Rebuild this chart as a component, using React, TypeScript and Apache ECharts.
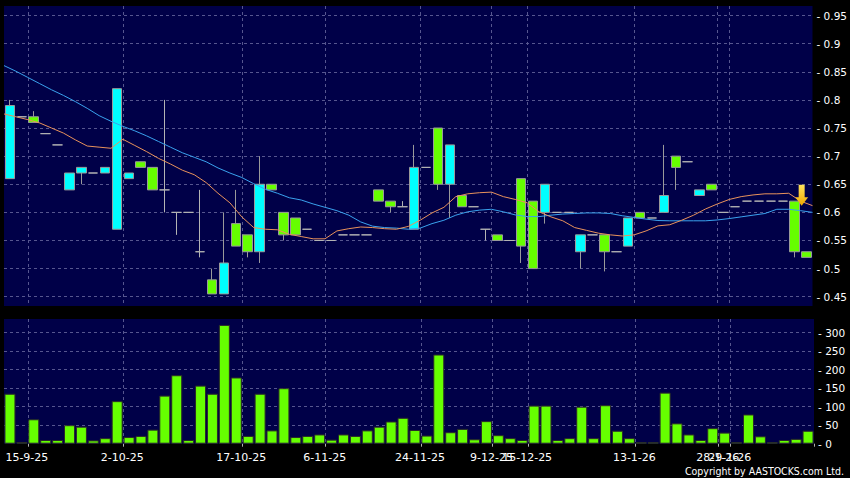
import React, { useEffect, useRef } from 'react';
import * as echarts from 'echarts';

// ---- data ----
const opens = [0.66, 0.77, 0.77, 0.74, 0.72, 0.64, 0.67, 0.67, 0.67, 0.57, 0.66, 0.69, 0.68, 0.64, 0.60, 0.60, 0.53, 0.48, 0.455, 0.58,
  0.56, 0.53, 0.65, 0.60, 0.59, 0.57, 0.55, 0.55, 0.56, 0.56, 0.56, 0.64, 0.62, 0.61, 0.57, 0.68, 0.75, 0.65, 0.63, 0.61,
  0.57, 0.56, 0.55, 0.66, 0.62, 0.60, 0.60, 0.60, 0.53, 0.56, 0.56, 0.53, 0.54, 0.60, 0.59, 0.60, 0.70, 0.69, 0.63, 0.65,
  0.60, 0.61, 0.62, 0.62, 0.62, 0.62, 0.62, 0.53];
const closes = [0.79, 0.77, 0.76, 0.74, 0.72, 0.67, 0.68, 0.67, 0.68, 0.82, 0.67, 0.68, 0.64, 0.64, 0.60, 0.60, 0.53, 0.455, 0.51, 0.54,
  0.53, 0.65, 0.64, 0.56, 0.56, 0.57, 0.55, 0.55, 0.56, 0.56, 0.56, 0.62, 0.61, 0.61, 0.68, 0.68, 0.65, 0.72, 0.61, 0.61,
  0.57, 0.55, 0.55, 0.54, 0.50, 0.65, 0.60, 0.60, 0.56, 0.56, 0.53, 0.53, 0.59, 0.59, 0.59, 0.63, 0.68, 0.69, 0.64, 0.64,
  0.60, 0.61, 0.62, 0.62, 0.62, 0.62, 0.53, 0.52];
const lows = [0.66, 0.77, 0.76, 0.74, 0.72, 0.64, 0.65, 0.67, 0.67, 0.57, 0.66, 0.68, 0.64, 0.60, 0.56, 0.60, 0.52, 0.455, 0.455, 0.54,
  0.52, 0.51, 0.64, 0.55, 0.56, 0.57, 0.55, 0.55, 0.56, 0.56, 0.56, 0.62, 0.60, 0.61, 0.57, 0.68, 0.64, 0.59, 0.61, 0.61,
  0.55, 0.55, 0.55, 0.51, 0.50, 0.58, 0.60, 0.60, 0.50, 0.56, 0.495, 0.53, 0.54, 0.59, 0.59, 0.60, 0.64, 0.69, 0.63, 0.64,
  0.60, 0.61, 0.62, 0.62, 0.62, 0.62, 0.52, 0.52];
const highs = [0.80, 0.77, 0.78, 0.74, 0.72, 0.67, 0.68, 0.67, 0.68, 0.82, 0.67, 0.69, 0.68, 0.80, 0.60, 0.60, 0.64, 0.50, 0.60, 0.64,
  0.56, 0.70, 0.65, 0.60, 0.59, 0.57, 0.55, 0.55, 0.56, 0.56, 0.56, 0.64, 0.62, 0.62, 0.72, 0.68, 0.75, 0.72, 0.63, 0.61,
  0.57, 0.56, 0.55, 0.66, 0.62, 0.65, 0.60, 0.60, 0.56, 0.56, 0.56, 0.53, 0.59, 0.60, 0.59, 0.72, 0.70, 0.69, 0.64, 0.65,
  0.60, 0.61, 0.62, 0.62, 0.62, 0.62, 0.62, 0.53];
const volumes = [135, 4.5, 66, 10, 10, 50, 46, 9, 15, 115, 18, 21, 38, 130, 185, 10, 157, 135, 321, 179,
  21, 135, 36, 150, 18, 21, 25, 11, 25, 21, 36, 46, 60, 70, 37, 22, 241, 31, 40, 12,
  61, 23, 15, 10, 103, 103, 10, 15, 100, 15, 104, 35, 15, 4, 4, 138, 55, 25, 10, 42,
  30, 4, 79, 20, 4, 10, 13, 35];
// moving averages, one point per day boundary (69 points, first = previous day)
const maShort = [0.775, 0.770, 0.765, 0.759, 0.750, 0.741, 0.729, 0.718, 0.716, 0.714, 0.730, 0.719, 0.708, 0.696, 0.686, 0.675, 0.667, 0.653, 0.634, 0.617,
  0.592, 0.573, 0.570, 0.569, 0.561, 0.557, 0.553, 0.553, 0.567, 0.571, 0.574, 0.573, 0.571, 0.570, 0.575, 0.586, 0.599, 0.609, 0.628, 0.633,
  0.635, 0.636, 0.628, 0.623, 0.617, 0.601, 0.592, 0.585, 0.573, 0.568, 0.563, 0.560, 0.558, 0.560, 0.567, 0.576, 0.578, 0.586, 0.595, 0.606,
  0.615, 0.623, 0.628, 0.631, 0.633, 0.633, 0.634, 0.620, 0.612];
const maLong = [0.861, 0.851, 0.840, 0.829, 0.818, 0.808, 0.797, 0.785, 0.772, 0.762, 0.753, 0.745, 0.736, 0.726, 0.716, 0.706, 0.698, 0.690, 0.679, 0.670,
  0.662, 0.651, 0.641, 0.634, 0.626, 0.622, 0.615, 0.609, 0.603, 0.595, 0.583, 0.5755, 0.573, 0.572, 0.570, 0.572, 0.580, 0.586, 0.595, 0.601,
  0.604, 0.6055, 0.601, 0.5955, 0.5925, 0.5925, 0.595, 0.597, 0.598, 0.599, 0.599, 0.598, 0.594, 0.591, 0.588, 0.5855, 0.585, 0.585, 0.585, 0.585,
  0.5865, 0.589, 0.592, 0.595, 0.598, 0.6055, 0.6055, 0.603, 0.600];
const dateLabelIndex = [1, 9, 19, 26, 34, 40, 43, 52, 59, 60];
const dateLabels = ['15-9-25', '2-10-25', '17-10-25', '6-11-25', '24-11-25', '9-12-25', '15-12-25', '13-1-26', '28-1-26', '29-1-26'];
const arrowDay = 66;

const categories = volumes.map((_, i) => String(i));
const maCategories = maShort.map((_, i) => String(i));

export default function App() {
  const ref = useRef<HTMLDivElement>(null);
  useEffect(() => {
    document.body.style.margin = '0';
    document.body.style.background = '#000';
    const chart = echarts.init(ref.current!, null, { renderer: 'svg' });
    const candleData = opens.map((o, i) => [o, closes[i], lows[i], highs[i]]);
    const gridLineFn = (idx: number) => dateLabelIndex.indexOf(idx - 1) >= 0;
    const gridStyle = { color: '#56568f', type: [3, 3] as any, width: 1 };
    const font = 'DejaVu Sans';
    // two label axes on the volume grid, so that overlapping date labels are both kept
    const labelAxis = (show: (k: number) => boolean, withGrid: boolean) => ({
      type: 'category', gridIndex: 1, position: 'bottom', offset: 0, data: categories, boundaryGap: true,
      axisLine: { show: false },
      axisTick: withGrid
        ? { show: true, interval: gridLineFn, length: 3, lineStyle: { color: '#b0b0b0' } }
        : { show: false },
      axisLabel: {
        interval: (idx: number) => {
          const k = dateLabelIndex.indexOf(idx);
          return k >= 0 && show(k);
        },
        hideOverlap: false,
        color: '#ffffff', fontSize: 11, fontFamily: font, margin: 8, padding: [0, 0, 0, 10],
        formatter: (_v: string, idx: number) => {
          const k = dateLabelIndex.indexOf(idx);
          return k >= 0 ? dateLabels[k] : '';
        },
      },
      splitLine: withGrid
        ? { show: true, interval: gridLineFn, showMaxLine: false, lineStyle: gridStyle }
        : { show: false },
    });
    const option: any = {
      animation: false,
      backgroundColor: '#000000',
      grid: [
        { left: 4, top: 6, width: 810, height: 300, show: true, backgroundColor: '#000048', borderWidth: 0 },
        { left: 4, top: 319, width: 810, height: 124.7, show: true, backgroundColor: '#000048', borderWidth: 0 },
      ],
      xAxis: [
        {
          type: 'category', gridIndex: 0, position: 'bottom', data: categories, boundaryGap: true,
          axisLine: { show: false }, axisTick: { show: false }, axisLabel: { show: false },
          splitLine: { show: true, interval: gridLineFn, showMaxLine: false, lineStyle: gridStyle },
        },
        labelAxis((k) => k % 2 === 0, true),
        { type: 'category', gridIndex: 0, position: 'top', data: maCategories, boundaryGap: false, show: false },
        labelAxis((k) => k % 2 === 1, false),
      ],
      yAxis: [
        {
          type: 'value', gridIndex: 0, position: 'right', min: 0.4335, max: 0.967, splitNumber: 10, scale: true,
          axisLine: { show: false }, axisTick: { show: false },
          axisLabel: {
            showMinLabel: false, showMaxLabel: false, margin: 4, color: '#ffffff', fontSize: 10.5, fontFamily: font,
            formatter: (v: number) => {
              const r = Math.round(v * 100) / 100;
              return Math.abs(v * 20 - Math.round(v * 20)) > 1e-6 ? '' : '- ' + String(r);
            },
          },
          splitLine: { show: true, showMinLine: false, showMaxLine: false, lineStyle: gridStyle },
        },
        {
          type: 'value', gridIndex: 1, position: 'right', min: 0, max: 337, splitNumber: 7,
          axisLine: { show: false }, axisTick: { show: false },
          axisLabel: {
            showMaxLabel: false, margin: 4, color: '#ffffff', fontSize: 10.5, fontFamily: font,
            formatter: (v: number) => (v % 50 === 0 ? '- ' + v : ''),
          },
          splitLine: { show: true, showMinLine: false, showMaxLine: false, lineStyle: gridStyle },
        },
      ],
      series: [
        {
          type: 'line', xAxisIndex: 2, yAxisIndex: 0, data: maLong, symbol: 'none', silent: true,
          lineStyle: { color: '#3aa2ee', width: 1 }, z: 3,
        },
        {
          type: 'line', xAxisIndex: 2, yAxisIndex: 0, data: maShort, symbol: 'none', silent: true,
          lineStyle: { color: '#e8925c', width: 1 }, z: 3,
        },
        {
          type: 'candlestick', xAxisIndex: 0, yAxisIndex: 0, data: candleData, barWidth: 10, z: 2,
          itemStyle: {
            color: '#00ffff', color0: '#66ff00', borderColor: '#9a9a9a', borderColor0: '#9a9a9a',
            borderColorDoji: '#b4b4b4', borderWidth: 1,
          },
          markPoint: {
            silent: true,
            symbol: 'path://M3.5,0 L9.5,0 L9.5,12 L13,12 L6.5,20 L0,12 L3.5,12 Z',
            symbolSize: [13, 21], symbolOffset: [7, -6], symbolKeepAspect: false,
            label: { show: false },
            itemStyle: {
              color: new echarts.graphic.LinearGradient(0, 0, 0, 1, [
                { offset: 0, color: '#ffe45c' }, { offset: 1, color: '#f0a800' },
              ]),
            },
            data: [{ coord: [arrowDay, highs[arrowDay]] }],
          },
        },
        {
          type: 'bar', xAxisIndex: 1, yAxisIndex: 1, data: volumes, barWidth: 11,
          itemStyle: { color: '#66ff00', borderColor: '#2a2a2a', borderWidth: 1 },
        },
      ],
      graphic: [
        {
          type: 'text', right: 6, top: 465,
          style: { text: 'Copyright by AASTOCKS.com Ltd.', fill: '#ffffff', font: "10.5px 'DejaVu Sans Condensed', 'DejaVu Sans'" },
        },
      ],
    };
    chart.setOption(option);
    return () => chart.dispose();
  }, []);
  return <div ref={ref} style={{ width: 850, height: 478, background: '#000' }} />;
}
